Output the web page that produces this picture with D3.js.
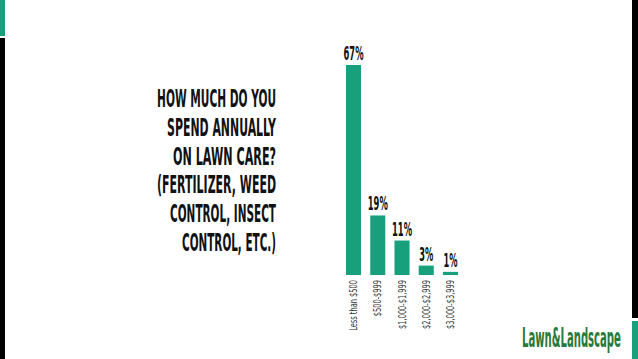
<!DOCTYPE html>
<html>
<head>
<meta charset="utf-8">
<script src="https://cdn.jsdelivr.net/npm/d3@7"></script>
<style>
body { margin: 0; background: #fff; }
svg { display: block; }
.cond { font-family: "Liberation Sans Narrow", "DejaVu Sans Condensed", "Roboto", sans-serif; font-weight: bold; }
</style>
</head>
<body>
<svg class="chart" width="638" height="359"></svg>

<script>
// survey answers
var categories = ["Less than $500", "$500-$999", "$1,000-$1,999", "$2,000-$2,999", "$3,000-$3,999"];
var values = [67, 19, 11, 3, 1];
var titleLines = ["HOW MUCH DO YOU", "SPEND ANNUALLY", "ON LAWN CARE?", "(FERTILIZER, WEED", "CONTROL, INSECT", "CONTROL, ETC.)"];
var titleWidths = [119, 109, 103, 119, 106, 94];

var green = "#17a07b";
var svg = d3.select(".chart");

// squeeze a text horizontally to a given width
function squeeze(sel, width, x, y) {
  sel.each(function() {
    var w = this.getComputedTextLength();
    d3.select(this).attr("transform", "translate(" + x + "," + y + ") scale(" + (width / w) + ",1)");
  });
}

// edge strips
svg.append("rect").attr("x", 0).attr("y", 0).attr("width", 5).attr("height", 36).attr("fill", green);
svg.append("rect").attr("x", 0).attr("y", 38).attr("width", 5).attr("height", 321).attr("fill", "#000");
svg.append("rect").attr("x", 632).attr("y", 0).attr("width", 6).attr("height", 318).attr("fill", "#000");
svg.append("rect").attr("x", 632).attr("y", 321).attr("width", 6).attr("height", 38).attr("fill", green);

// title, right aligned
svg.append("g").selectAll("text")
    .data(titleLines)
  .enter().append("text")
    .attr("class", "cond")
    .attr("text-anchor", "end")
    .attr("font-size", "24px")
    .attr("fill", "#111")
    .text(function(d) { return d; })
    .each(function(d, i) {
      squeeze(d3.select(this), titleWidths[i], 276, 107 + i * 28.8);
    });

var x = d3.scaleBand().domain(categories).range([346, 458]).paddingInner(0.38).paddingOuter(0);
var y = d3.scaleLinear().domain([0, 67]).range([275, 65]);

var bars = svg.append("g");
bars.selectAll("rect")
    .data(values)
  .enter().append("rect")
    .attr("x", function(d, i) { return x(categories[i]); })
    .attr("y", function(d) { return y(d); })
    .attr("width", x.bandwidth())
    .attr("height", function(d) { return y(0) - y(d); })
    .attr("fill", green);

bars.selectAll("text")
    .data(values)
  .enter().append("text")
    .attr("class", "cond")
    .attr("text-anchor", "middle")
    .attr("font-size", "19px")
    .attr("fill", "#111")
    .text(function(d) { return d + "%"; })
    .each(function(d, i) {
      squeeze(d3.select(this), d < 10 ? 14 : 20, x(categories[i]) + x.bandwidth() / 2, y(d) - 5);
    });

// category labels, rotated
var axis = svg.append("g")
    .attr("transform", "translate(0," + y(0) + ")")
    .call(d3.axisBottom(x).tickSize(0));
axis.select(".domain").remove();
axis.selectAll("text")
    .attr("class", "cond")
    .attr("y", 0)
    .attr("x", 0)
    .attr("dy", "0.35em")
    .attr("text-anchor", "end")
    .attr("font-size", "10px")
    .attr("fill", "#333")
    .style("font-weight", "normal")
    .attr("transform", "translate(0,5) rotate(-90) scale(0.74,1)");

// logo
svg.append("text")
    .attr("class", "cond")
    .attr("font-size", "27px")
    .attr("fill", "#267a3a")
    .text("Lawn&Landscape")
    .call(squeeze, 99, 522, 347);
</script>
</body>
</html>
